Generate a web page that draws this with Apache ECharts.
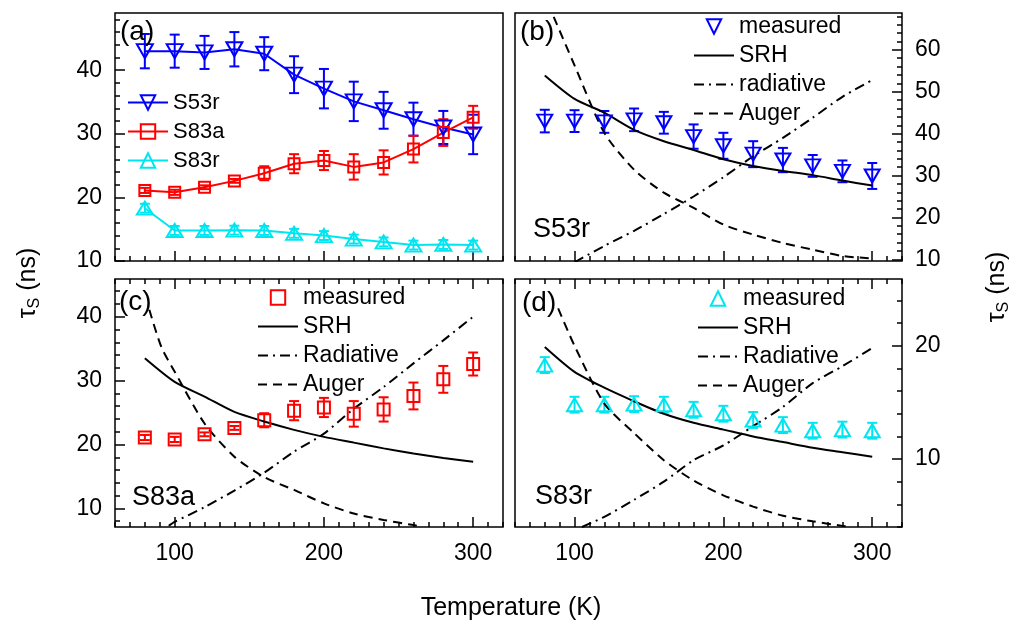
<!DOCTYPE html>
<html><head><meta charset="utf-8">
<script src="https://cdn.jsdelivr.net/npm/echarts@6/dist/echarts.min.js"></script>
<style>html,body{margin:0;padding:0;background:#fff}#c{width:1013px;height:624px}</style>
</head><body><div id="c"></div>
<script>
// ---------- data ----------
const temps   = [80,100,120,140,160,180,200,220,240,260,280,300];
const s53r    = [43.0,43.0,42.8,43.3,42.6,39.3,37.1,35.1,33.7,32.3,31.0,29.9];
const s53rErr = [2.7,2.6,2.6,2.7,2.6,2.9,3.1,3.1,2.9,2.6,2.6,3.1];
const s83a    = [21.1,20.8,21.6,22.6,23.8,25.3,25.8,24.8,25.5,27.6,30.2,32.6];
const s83aErr = [0.4,0.4,0.3,0.3,1.1,1.5,1.5,2.0,1.9,2.1,2.1,1.8];
const s83r    = [18.3,14.8,14.8,14.85,14.8,14.35,14.0,13.45,13.0,12.5,12.6,12.5];
const s83rErr = [0.7,0.7,0.7,0.7,0.7,0.7,0.7,0.7,0.7,0.7,0.7,0.7];

// panel (b) model curves (S53r)
const srhB  = [53.9,48.3,45.0,40.9,38.2,36.1,33.9,32.3,31.1,30.1,28.8,27.6];
const radBT = [100,120,140,160,180,200,220,240,260,280,300];
const radB  = [9.3,13.2,16.8,20.8,25.0,29.6,34.6,39.0,43.8,48.8,52.8];
const augBT = [86,100,120,140,160,180,200,220,240,260,280,300];
const augB  = [67.9,56.3,40.2,31.4,25.9,22.3,18.3,15.9,13.9,12.3,10.8,10.2];
// panel (c) model curves (S83a)
const srhC  = [33.5,29.8,27.5,25.1,23.6,22.3,21.2,20.3,19.4,18.6,17.9,17.3];
const radCT = [96,100,120,140,160,180,200,220,240,260,280,300];
const radC  = [7.3,7.9,10.2,12.8,15.6,18.9,21.7,25.6,29.0,32.7,36.3,40.0];
const augCT = [83,91,100,120,140,160,180,200,220,240,260,265];
const augC  = [41.1,35.3,31.4,23.3,18.1,14.9,12.9,10.8,9.2,8.2,7.4,7.2];
// panel (d) model curves (S83r)
const srhD  = [19.9,17.7,16.3,15.1,14.0,13.2,12.6,12.0,11.5,11.0,10.6,10.2];
const radDT = [105,120,140,160,180,200,220,240,260,280,300];
const radD  = [4.0,4.9,6.4,8.0,9.9,11.2,12.9,14.6,16.7,18.2,19.8];
const augDT = [89,100,120,140,160,180,200,220,240,260,280,285];
const augD  = [23.3,20.0,14.9,12.3,9.9,8.1,6.8,5.8,5.0,4.5,4.1,4.0];

// axes / tick labels
const xRange  = [60, 320];
const xLabels = [100, 200, 300];
const yRangeA = [10, 49],   yLabelsA = [10, 20, 30, 40];
const yRangeB = [9.6, 68.8], yLabelsB = [10, 20, 30, 40, 50, 60];
const yRangeC = [7.1, 45.9], yLabelsC = [10, 20, 30, 40];
const yRangeD = [4.0, 25.9], yLabelsD = [10, 20];

// ---------- layout / style ----------
const FONT = '"Liberation Sans", Arial, Helvetica, sans-serif';
const BLUE = '#0000ff', RED = '#ff0000', CYAN = '#00e6f0', BLACK = '#000000';
const grids = [
  {left:115, top:13,  width:388, height:248},
  {left:515, top:13,  width:387, height:248},
  {left:115, top:279, width:388, height:248},
  {left:515, top:279, width:387, height:248}
];
function seq(a, b, s){ const r=[]; for(let v=a; v<=b+1e-9; v+=s) r.push(+v.toFixed(6)); return r; }
const xMinor = seq(60, 320, 10);

const xAxes = [], yAxes = [];
function mk(gi, pos, range, ticks, len, labels){
  return {type:'value', gridIndex:gi, position:pos, min:range[0], max:range[1],
    axisLine:{show:false}, splitLine:{show:false},
    axisTick:{show:true, inside:true, length:len, customValues:ticks, lineStyle:{color:BLACK, width:1.5}},
    axisLabel: labels ? {show:true, customValues:labels, margin: (pos==='bottom'?15:13), fontSize:23, fontFamily:FONT, color:BLACK} : {show:false}};
}
function addX(c){ xAxes.push(c); return xAxes.length-1; }
function addY(c){ yAxes.push(c); return yAxes.length-1; }

const XI = [];
for (let g=0; g<4; g++){
  addX(mk(g,'bottom',xRange,xMinor,5,null));
  XI[g] = addX(mk(g,'bottom',xRange,xLabels,10, g>=2 ? xLabels : null));
  if (g>=2){ addX(mk(g,'top',xRange,xMinor,5,null)); addX(mk(g,'top',xRange,xLabels,10,null)); }
}
const YI = [];
addY(mk(0,'left', yRangeA, seq(10,48,2),5,null));  YI[0] = addY(mk(0,'left', yRangeA, yLabelsA,10,yLabelsA));
addY(mk(1,'right',yRangeB, seq(10,68,2),5,null));  YI[1] = addY(mk(1,'right',yRangeB, yLabelsB,10,yLabelsB));
addY(mk(2,'left', yRangeC, seq(8,44,2),5,null));   YI[2] = addY(mk(2,'left', yRangeC, yLabelsC,10,yLabelsC));
addY(mk(3,'right',yRangeD, seq(4,24,2),5,null));   YI[3] = addY(mk(3,'right',yRangeD, yLabelsD,10,yLabelsD));

function pairs(xs, ys){ return xs.map((x,i)=>[x, ys[i]]); }
function hollow(color){ return {color:'rgba(255,255,255,0)', borderColor:color, borderWidth:2}; }

function errBars(g, vals, errs, color, cap){
  return {type:'custom', xAxisIndex:XI[g], yAxisIndex:YI[g], silent:true, z:3,
    encode:{x:0, y:[1,2]},
    data: temps.map((t,i)=>[t, vals[i]-errs[i], vals[i]+errs[i]]),
    renderItem:(p, api)=>{
      const lo = api.coord([api.value(0), api.value(1)]);
      const hi = api.coord([api.value(0), api.value(2)]);
      const st = {stroke:color, lineWidth:2};
      return {type:'group', children:[
        {type:'line', shape:{x1:lo[0],y1:lo[1],x2:hi[0],y2:hi[1]}, style:st},
        {type:'line', shape:{x1:lo[0]-cap,y1:lo[1],x2:lo[0]+cap,y2:lo[1]}, style:st},
        {type:'line', shape:{x1:hi[0]-cap,y1:hi[1],x2:hi[0]+cap,y2:hi[1]}, style:st}
      ]};
    }};
}
function curve(g, name, data, type){
  return {type:'line', name:name, xAxisIndex:XI[g], yAxisIndex:YI[g], data:data, symbol:'none',
    smooth:0.25, clip:true, color:BLACK, lineStyle:{color:BLACK, width:2, type:type}};
}
function measured(g, name, vals, color, symbol, size, rot){
  return {type:'line', name:name, xAxisIndex:XI[g], yAxisIndex:YI[g], data:pairs(temps,vals), color:color,
    symbol:symbol, symbolRotate:rot, symbolSize:size, lineStyle:{width:0, opacity:0}, itemStyle:hollow(color)};
}
const DASH = [9,6], DASHDOT = [10,5,2,5];

const series = [
  // (a)
  {type:'line', name:'S53r', xAxisIndex:XI[0], yAxisIndex:YI[0], data:pairs(temps,s53r), color:BLUE,
   symbol:'triangle', symbolRotate:180, symbolSize:[16,14], lineStyle:{color:BLUE,width:2}, itemStyle:hollow(BLUE)},
  {type:'line', name:'S83a', xAxisIndex:XI[0], yAxisIndex:YI[0], data:pairs(temps,s83a), color:RED,
   symbol:'rect', symbolSize:11, lineStyle:{color:RED,width:2}, itemStyle:hollow(RED)},
  {type:'line', name:'S83r', xAxisIndex:XI[0], yAxisIndex:YI[0], data:pairs(temps,s83r), color:CYAN,
   symbol:'triangle', symbolSize:[16,13], lineStyle:{color:CYAN,width:2}, itemStyle:hollow(CYAN)},
  errBars(0, s53r, s53rErr, BLUE, 5), errBars(0, s83a, s83aErr, RED, 5), errBars(0, s83r, s83rErr, CYAN, 5),
  // (b)
  measured(1, 'measured#b', s53r, BLUE, 'triangle', [15,13], 180),
  errBars(1, s53r, s53rErr, BLUE, 5),
  curve(1,'SRH#b', pairs(temps,srhB), 'solid'),
  curve(1,'radiative#b', pairs(radBT,radB), DASHDOT),
  curve(1,'Auger#b', pairs(augBT,augB), DASH),
  // (c)
  measured(2, 'measured#c', s83a, RED, 'rect', 12, 0),
  errBars(2, s83a, s83aErr, RED, 5),
  curve(2,'SRH#c', pairs(temps,srhC), 'solid'),
  curve(2,'Radiative#c', pairs(radCT,radC), DASHDOT),
  curve(2,'Auger#c', pairs(augCT,augC), DASH),
  // (d)
  measured(3, 'measured#d', s83r, CYAN, 'triangle', [15,13], 0),
  errBars(3, s83r, s83rErr, CYAN, 5),
  curve(3,'SRH#d', pairs(temps,srhD), 'solid'),
  curve(3,'Radiative#d', pairs(radDT,radD), DASHDOT),
  curve(3,'Auger#d', pairs(augDT,augD), DASH)
];

function legend(left, top, names, curvesFrom, fs){
  return {show:true, orient:'vertical', left:left, top:top, padding:0, itemWidth:40, itemHeight:18, itemGap:4,
    selectedMode:false,
    data:names.map((n,i)=> i>=curvesFrom ? {name:n, itemStyle:{opacity:0}} : {name:n}),
    formatter:(n)=>n.split('#')[0],
    textStyle:{fontSize:fs, fontFamily:FONT, color:BLACK, lineHeight:25}};
}
const legends = [
  legend(127, 90,  ['S53r','S83a','S83r'], 99, 22),
  legend(693, 14,  ['measured#b','SRH#b','radiative#b','Auger#b'], 1, 23),
  legend(257, 285, ['measured#c','SRH#c','Radiative#c','Auger#c'], 1, 23),
  legend(697, 286, ['measured#d','SRH#d','Radiative#d','Auger#d'], 1, 23)
];

function label(x, y, t, size){
  return {type:'text', x:x, y:y, z:10, style:{text:t, fontSize:size, fontFamily:FONT, fill:BLACK,
    verticalAlign:'middle', textVerticalAlign:'middle'}};
}
function yTitle(x, y){
  return {type:'text', x:x, y:y, rotation:Math.PI/2, z:10, style:{
    text:'{a|τ}{b|S}{a| (ns)}', align:'center', textAlign:'center', verticalAlign:'middle', textVerticalAlign:'middle',
    rich:{a:{fontSize:25, fontFamily:FONT, fill:BLACK, lineHeight:30},
          b:{fontSize:16, fontFamily:FONT, fill:BLACK, lineHeight:16, verticalAlign:'bottom'}}}};
}
const graphics = [
  label(120, 32, '(a)', 28), label(520, 32, '(b)', 28),
  label(119, 302, '(c)', 28), label(522, 303, '(d)', 28),
  label(533, 230, 'S53r', 27), label(132, 498, 'S83a', 27), label(535, 497, 'S83r', 27),
  {type:'text', x:511, y:608, z:10, style:{text:'Temperature (K)', fontSize:25, fontFamily:FONT, fill:BLACK,
    align:'center', textAlign:'center', verticalAlign:'middle', textVerticalAlign:'middle'}},
  yTitle(28, 283), yTitle(997, 287)
];

const chart = echarts.init(document.getElementById('c'), null, {renderer:'canvas'});
chart.setOption({
  animation:false, backgroundColor:'#ffffff',
  grid: grids.map(g=>Object.assign({show:true, borderColor:BLACK, borderWidth:1.5, backgroundColor:'transparent', containLabel:false}, g)),
  xAxis:xAxes, yAxis:yAxes, series:series, legend:legends, graphic:graphics
});
</script></body></html>
